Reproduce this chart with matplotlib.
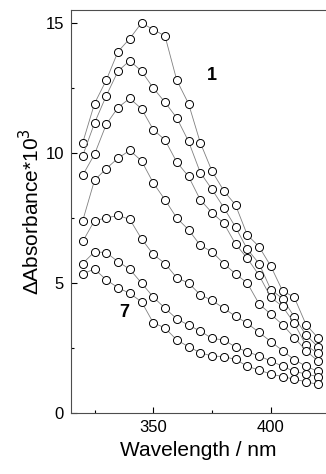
import numpy as np
import matplotlib.pyplot as plt
from matplotlib.ticker import MultipleLocator

plt.rcParams['font.family'] = ['Liberation Sans', 'DejaVu Sans']

# Longitudes de onda (nm)
wl = np.arange(320, 421, 5)

# Espectros 1 a 7 (Delta absorbancia * 10^3)
c1 = [10.4, 11.9, 12.8, 13.9, 14.4, 15.0, 14.75, 14.5, 12.8, 11.9, 10.4,
      9.3, 8.55, 8.0, 6.85, 6.4, 5.65, 4.7, 4.45, 3.4, 2.9]
c2 = [9.9, 11.15, 12.2, 13.15, 13.55, 13.15, 12.5, 11.95, 11.35, 10.45, 9.25,
      8.6, 7.9, 7.15, 6.3, 5.75, 4.75, 4.4, 3.7, 3.0, 2.55]
c3 = [9.15, 9.95, 11.1, 11.75, 12.1, 11.7, 10.9, 10.5, 9.65, 9.1, 8.2,
      7.7, 7.3, 6.5, 5.95, 5.3, 4.45, 4.1, 3.45, 2.6, 2.3]
c4 = [7.4, 8.95, 9.4, 9.8, 10.1, 9.7, 8.85, 8.2, 7.5, 7.05, 6.45,
      6.2, 5.75, 5.35, 5.0, 4.2, 3.8, 3.4, 2.9, 2.4, 2.0]
c5 = [6.6, 7.4, 7.5, 7.6, 7.45, 6.7, 6.1, 5.75, 5.2, 5.0, 4.55,
      4.33, 4.03, 3.72, 3.45, 3.1, 2.75, 2.4, 2.05, 1.8, 1.6]
c6 = [5.75, 6.2, 6.17, 5.82, 5.53, 5.0, 4.46, 4.03, 3.62, 3.38, 3.15,
      2.87, 2.81, 2.54, 2.35, 2.2, 2.0, 1.8, 1.6, 1.5, 1.4]
c7 = [5.35, 5.54, 5.12, 4.82, 4.6, 4.28, 3.47, 3.27, 2.81, 2.55, 2.32,
      2.19, 2.17, 2.06, 1.8, 1.65, 1.5, 1.4, 1.3, 1.2, 1.1]
curvas = [c1, c2, c3, c4, c5, c6, c7]

fig = plt.figure(figsize=(3.26, 4.74), dpi=100)
ax = fig.add_axes([71/326, 61/474, 255/326, 403/474])

for c in curvas:
    ax.plot(wl, c, '-', color='0.5', lw=0.6)
    ax.plot(wl, c, 'o', mfc='white', mec='black', ms=5.8, mew=0.7)

ax.text(375, 13.0, '1', fontsize=13, fontweight='bold', ha='center', va='center')
ax.text(337.5, 3.85, '7', fontsize=13, fontweight='bold', ha='center', va='center')

ax.set_xlim(315, 423.5)
ax.set_ylim(0, 15.5)
ax.xaxis.set_major_locator(MultipleLocator(50))
ax.xaxis.set_minor_locator(MultipleLocator(25))
ax.yaxis.set_major_locator(MultipleLocator(5))
ax.yaxis.set_minor_locator(MultipleLocator(2.5))
ax.tick_params(which='both', direction='in', labelsize=12, width=0.8)
ax.tick_params(which='major', length=4, pad=5)
ax.tick_params(which='minor', length=2.5)
ax.spines['right'].set_visible(False)
for s in ['left', 'bottom', 'top']:
    ax.spines[s].set_linewidth(0.8)
    ax.spines[s].set_color('0.3')

ax.set_xlabel('Wavelength / nm', fontsize=15, labelpad=4)
ax.set_ylabel('ΔAbsorbance*10$^3$', fontsize=15, labelpad=2)

fig.savefig('out.png', dpi=100)
